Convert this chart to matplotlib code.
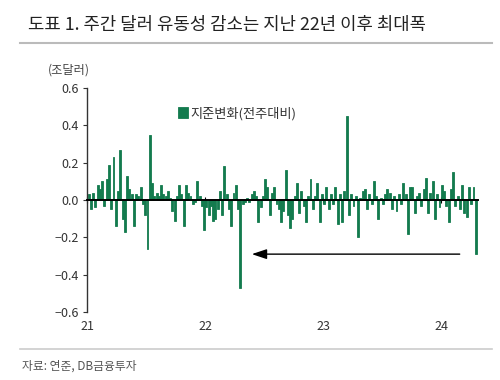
import matplotlib
matplotlib.use("Agg")
import matplotlib.pyplot as plt
import matplotlib.dates as mdates
import pandas as pd
import numpy as np

plt.rcParams['font.family'] = ['Noto Sans CJK KR', 'DejaVu Sans']
plt.rcParams['axes.unicode_minus'] = True

title = "도표 1. 주간 달러 유동성 감소는 지난 22년 이후 최대폭"
unit_label = "(조달러)"
series_name = "지준변화(전주대비)"
source = "자료: 연준, DB금융투자"

start_date = "2021-01-06"
weekly_change = [
    0.03, -0.05, 0.04, -0.04, 0.08, 0.06, 0.10, -0.03, 0.11, 0.19,
    -0.05, 0.23, -0.14, 0.05, 0.27, -0.10, -0.17, 0.13, 0.06, 0.03,
    -0.14, 0.03, 0.02, 0.07, -0.02, -0.08, -0.26, 0.35, 0.09, 0.02,
    0.04, 0.02, 0.08, 0.03, 0.02, 0.05, 0.01, -0.06, -0.11, 0.02,
    0.08, 0.03, -0.14, 0.08, 0.04, 0.02, -0.02, -0.01, 0.10, 0.02,
    -0.03, -0.16, -0.04, -0.08, -0.03, -0.11, -0.10, -0.05, 0.05, -0.08,
    0.18, 0.03, -0.05, -0.14, 0.04, 0.08, -0.05, -0.47, -0.02, -0.01,
    0.01, -0.01, 0.03, 0.05, 0.02, -0.12, -0.04, 0.02, 0.11, 0.07,
    -0.08, 0.04, 0.07, -0.02, -0.05, -0.12, -0.06, 0.16, -0.08, -0.15,
    -0.10, 0.02, 0.09, -0.07, 0.05, -0.03, -0.12, 0.02, 0.11, -0.05,
    0.02, 0.09, -0.12, 0.03, -0.02, 0.07, -0.05, 0.03, -0.02, 0.07,
    -0.13, 0.03, -0.12, 0.05, 0.45, -0.08, 0.03, -0.03, 0.02, -0.20,
    0.01, 0.05, 0.06, -0.05, 0.03, -0.02, 0.10, 0.02, -0.10, 0.01,
    -0.02, 0.03, 0.06, 0.04, -0.05, 0.02, -0.06, 0.03, -0.02, 0.09,
    0.03, -0.18, 0.07, 0.07, -0.07, 0.02, 0.04, -0.03, 0.06, 0.12,
    -0.07, 0.04, 0.10, -0.10, 0.03, -0.04, 0.08, 0.05, -0.03, -0.12,
    0.06, 0.15, -0.03, 0.02, -0.05, 0.08, -0.07, -0.09, 0.07, -0.02,
    0.07, -0.29,
]
year_ticks = ["2021-01-01", "2022-01-01", "2023-01-01", "2024-01-01"]
year_labels = ["21", "22", "23", "24"]
y_ticks = [0.6, 0.4, 0.2, 0.0, -0.2, -0.4, -0.6]
arrow_from = ("2024-03-07", -0.29)
arrow_to = ("2022-05-17", -0.29)

dates = pd.date_range(start_date, periods=len(weekly_change), freq="7D")
green = "#137b4e"

fig = plt.figure(figsize=(5.0, 3.8), dpi=100)
ax = fig.add_axes([87/500, 1-312/380, 391/500, 224/380])

ax.bar(dates, weekly_change, width=6.0, color=green, edgecolor=green, linewidth=0.6,
       label=series_name, zorder=2)

ax.set_ylim(-0.6, 0.6)
ax.set_yticks(y_ticks)
ax.set_yticklabels([f"{v:.1f}".replace("-", "\u2212") for v in y_ticks])
ax.set_xlim(pd.Timestamp("2021-01-01"), pd.Timestamp("2024-04-24"))

for s in ["top", "right"]:
    ax.spines[s].set_visible(False)
ax.spines["left"].set_color("#333333")
ax.spines["left"].set_linewidth(1.0)
ax.spines["bottom"].set_position(("data", 0))
ax.spines["bottom"].set_color("black")
ax.spines["bottom"].set_linewidth(1.4)
ax.spines["bottom"].set_zorder(3)
ax.set_xticks(pd.to_datetime(year_ticks))
ax.tick_params(axis="x", direction="inout", length=5, labelbottom=False, color="black")
ax.tick_params(axis="y", direction="out", length=3, labelsize=9, labelcolor="#333333", color="#333333", pad=3)

sec = ax.secondary_xaxis(0.0)
sec.set_xticks(pd.to_datetime(year_ticks))
sec.set_xticklabels(year_labels)
sec.spines["bottom"].set_visible(False)
sec.tick_params(axis="x", length=0, labelsize=9, labelcolor="#333333", pad=6)

ax.annotate("", xy=(pd.Timestamp(arrow_to[0]), arrow_to[1]),
            xytext=(pd.Timestamp(arrow_from[0]), arrow_from[1]),
            arrowprops=dict(arrowstyle="-|>,head_length=0.9,head_width=0.3",
                            color="black", lw=1.0), zorder=4)

leg = ax.legend(loc="upper left", bbox_to_anchor=(0.22, 0.94), frameon=False,
                fontsize=9.5, handlelength=0.7, handleheight=0.9, handletextpad=0.2,
                borderaxespad=0)
for t in leg.get_texts():
    t.set_color("#333333")

fig.text(28/500, 1-25/380, title, fontsize=12.8, color="#222222", va="center", ha="left")
fig.add_artist(plt.Line2D([20/500, 492/500], [1-43/380, 1-43/380], color="#bbbbbb", lw=1.5))
fig.text(48/500, 1-70/380, unit_label, fontsize=8.8, color="#444444", va="center", ha="left")
fig.add_artist(plt.Line2D([20/500, 492/500], [1-349/380, 1-349/380], color="#cccccc", lw=1.2))
fig.text(22/500, 1-366/380, source, fontsize=8.5, color="#555555", va="center", ha="left")

fig.savefig("out.png", dpi=100)
